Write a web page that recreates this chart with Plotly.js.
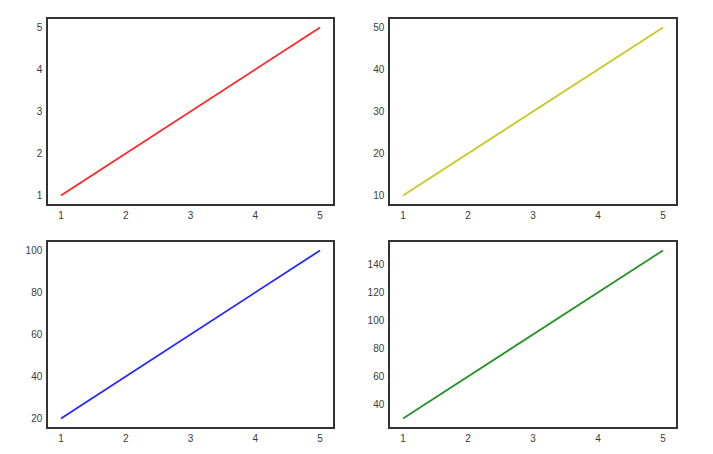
<!DOCTYPE html>
<html><head><meta charset="utf-8">
<script src="https://cdn.plot.ly/plotly-3.0.1.min.js"></script>
<style>html,body{margin:0;padding:0;background:#fff}#c{width:713px;height:454px}</style>
</head><body><div id="c"></div>
<script>
const xs = [1, 2, 3, 4, 5];
const ysRed = [1, 2, 3, 4, 5];
const ysYellow = [10, 20, 30, 40, 50];
const ysBlue = [20, 40, 60, 80, 100];
const ysGreen = [30, 60, 90, 120, 150];
const xTicks = [1, 2, 3, 4, 5];
const yTicksRed = [1, 2, 3, 4, 5];
const yTicksYellow = [10, 20, 30, 40, 50];
const yTicksBlue = [20, 40, 60, 80, 100];
const yTicksGreen = [40, 60, 80, 100, 120, 140];

function pad(arr){const mn=Math.min(...arr),mx=Math.max(...arr),d=(mx-mn)*0.05;return [mn-d,mx+d];}

const series = [
  {y: ysRed, c: '#ff0000', t: yTicksRed},
  {y: ysYellow, c: '#bfbf00', t: yTicksYellow},
  {y: ysBlue, c: '#0000ff', t: yTicksBlue},
  {y: ysGreen, c: '#008000', t: yTicksGreen}
];
const xDom = [[48/713, 333/713],[390/713, 676/713]];
const yDom = [[1-204/454, 1-19/454],[1-427/454, 1-242/454]];

const data = [];
const layout = {
  width: 713, height: 454,
  margin: {l:0, r:0, t:0, b:0},
  paper_bgcolor: '#fff', plot_bgcolor: '#fff',
  showlegend: false,
  font: {family: 'Liberation Sans, Arial, sans-serif', size: 10, color: '#3a3a3a'}
};
series.forEach((s, i) => {
  const n = i + 1;
  const xa = n === 1 ? 'x' : 'x' + n;
  const ya = n === 1 ? 'y' : 'y' + n;
  data.push({x: xs, y: s.y, xaxis: xa, yaxis: ya, type: 'scatter', mode: 'lines',
             line: {color: s.c, width: 1.8}, opacity: 0.85, hoverinfo: 'none'});
  const common = {showgrid: false, zeroline: false, showline: true, mirror: true,
                  linecolor: '#333', linewidth: 1.7, ticks: '', fixedrange: true,
                  tickfont: {size: 10, color: '#3a3a3a'}};
  layout['xaxis' + (n === 1 ? '' : n)] = Object.assign({}, common, {
    domain: xDom[i % 2], range: pad(xs), tickvals: xTicks, anchor: ya, ticklabelstandoff: 1
  });
  layout['yaxis' + (n === 1 ? '' : n)] = Object.assign({}, common, {
    domain: yDom[Math.floor(i / 2)], range: pad(s.y), tickvals: s.t, anchor: xa, ticklabelstandoff: 2
  });
});
Plotly.newPlot('c', data, layout, {staticPlot: true});
</script></body></html>
